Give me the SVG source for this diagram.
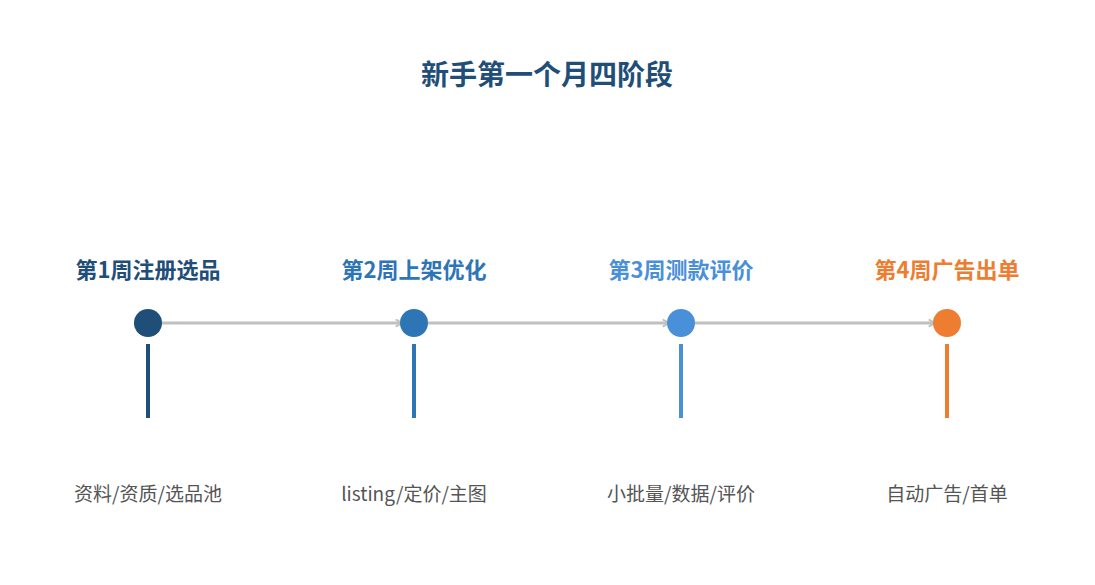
<svg xmlns="http://www.w3.org/2000/svg" width="1095" height="585" viewBox="0 0 1095 585">
<defs><style>
text{font-family:"Noto Sans CJK SC","Noto Sans",sans-serif;text-anchor:middle}
.t{font-size:22px;font-weight:bold}
.d{font-size:19px;fill:#555}
.c{stroke:#c0c0c0;stroke-width:3;fill:none}
</style>
<marker id="a" viewBox="0 0 10 10" refX="8" refY="5" markerWidth="3" markerHeight="3" orient="auto"><path d="M1,1 L8,5 L1,9" fill="none" stroke="#c0c0c0" stroke-width="2"/></marker></defs>
<rect width="1095" height="585" fill="#fff"/>
<text x="547" y="85" font-size="28" font-weight="bold" fill="#1f4e79">新手第一个月四阶段</text>
<g id="connectors">
<line class="c" x1="162" y1="323" x2="402" y2="323" marker-end="url(#a)"/>
<line class="c" x1="428" y1="323" x2="669" y2="323" marker-end="url(#a)"/>
<line class="c" x1="695" y1="323" x2="935" y2="323" marker-end="url(#a)"/>
</g>
<g id="n1"><text class="t" x="148" y="278" fill="#1f4e79">第1周注册选品</text><circle cx="148" cy="323" r="14" fill="#1f4e79"/><rect x="146" y="344" width="4" height="74" fill="#1f4e79"/><text class="d" x="148" y="501">资料/资质/选品池</text></g>
<g id="n2"><text class="t" x="414" y="278" fill="#2e75b6">第2周上架优化</text><circle cx="414" cy="323" r="14" fill="#2e75b6"/><rect x="412" y="344" width="4" height="74" fill="#2e75b6"/><text class="d" x="414" y="501">listing/定价/主图</text></g>
<g id="n3"><text class="t" x="681" y="278" fill="#4a90d9">第3周测款评价</text><circle cx="681" cy="323" r="14" fill="#4a90d9"/><rect x="679" y="344" width="4" height="74" fill="#4a90d9"/><text class="d" x="681" y="501">小批量/数据/评价</text></g>
<g id="n4"><text class="t" x="947" y="278" fill="#ed7d31">第4周广告出单</text><circle cx="947" cy="323" r="14" fill="#ed7d31"/><rect x="945" y="344" width="4" height="74" fill="#ed7d31"/><text class="d" x="947" y="501">自动广告/首单</text></g>
</svg>
